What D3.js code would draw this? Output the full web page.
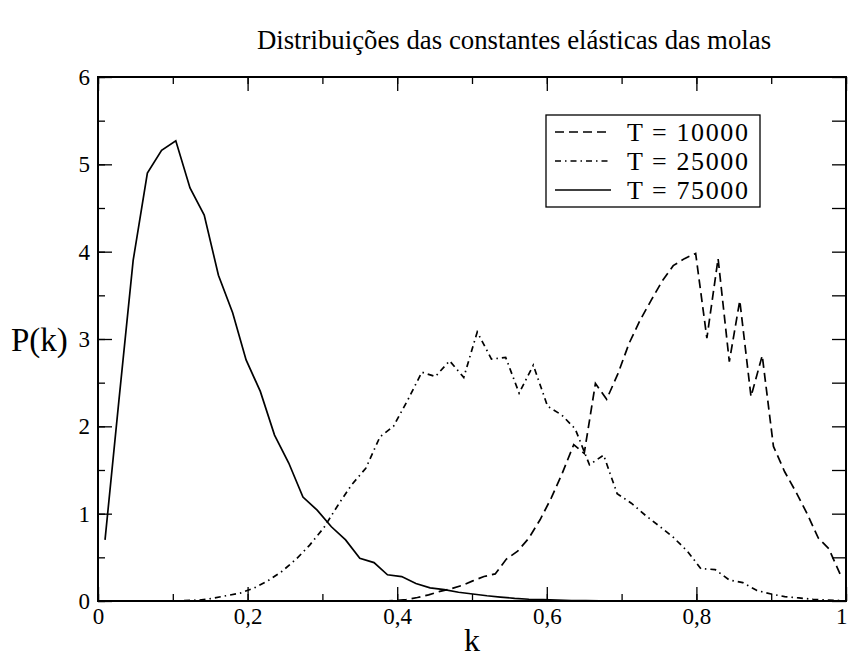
<!DOCTYPE html>
<html><head><meta charset="utf-8">
<script src="https://cdn.jsdelivr.net/npm/d3@7"></script>
<style>html,body{margin:0;padding:0;background:#fff;}svg{display:block;}
svg text{font-family:"Liberation Serif","Times New Roman","DejaVu Serif",serif !important;}</style>
</head><body>
<svg id="chart" width="848" height="666"></svg>
<script>
const title = "Distribuições das constantes elásticas das molas";
const xLabel = "k";
const yLabel = "P(k)";
const legendLabels = ["T = 10000", "T = 25000", "T = 75000"];
const xTicks = [0, 0.2, 0.4, 0.6, 0.8, 1];
const yTicks = [0, 1, 2, 3, 4, 5, 6];

// T = 10000 (dashed)
const k10000 = [0.382,0.397,0.412,0.427,0.442,0.457,0.472,0.487,0.501,0.516,0.531,0.546,0.561,0.576,0.591,0.606,0.621,0.636,0.650,0.665,0.680,0.695,0.710,0.725,0.740,0.754,0.769,0.784,0.799,0.814,0.829,0.844,0.858,0.873,0.888,0.903,0.918,0.933,0.948,0.963,0.977,0.992];
const p10000 = [0.0,0.005,0.015,0.04,0.07,0.11,0.14,0.18,0.23,0.28,0.31,0.48,0.57,0.72,0.93,1.18,1.47,1.79,1.69,2.49,2.31,2.60,2.95,3.22,3.45,3.66,3.84,3.92,3.98,3.01,3.92,2.74,3.44,2.34,2.81,1.77,1.48,1.25,1.00,0.72,0.60,0.31];

// T = 25000 (dash-dot)
const k25000 = [0.115,0.134,0.153,0.171,0.190,0.209,0.227,0.246,0.265,0.283,0.302,0.321,0.339,0.358,0.377,0.395,0.414,0.433,0.451,0.470,0.489,0.507,0.526,0.545,0.563,0.582,0.601,0.620,0.638,0.657,0.676,0.694,0.713,0.732,0.750,0.769,0.788,0.806,0.825,0.844,0.862,0.881,0.900,0.918,0.937,0.956,0.974,0.993];
const p25000 = [0.005,0.01,0.03,0.06,0.09,0.15,0.23,0.34,0.48,0.64,0.84,1.10,1.33,1.52,1.88,2.00,2.30,2.62,2.57,2.75,2.56,3.08,2.77,2.79,2.38,2.70,2.23,2.13,1.97,1.56,1.67,1.23,1.12,0.98,0.86,0.73,0.57,0.37,0.36,0.24,0.21,0.12,0.08,0.05,0.035,0.02,0.01,0.005];

// T = 75000 (solid)
const k75000 = [0.0094,0.028,0.047,0.066,0.085,0.104,0.123,0.142,0.161,0.180,0.198,0.217,0.236,0.255,0.274,0.293,0.312,0.331,0.350,0.369,0.387,0.406,0.425,0.444,0.463,0.482,0.501,0.520,0.538,0.557,0.576,0.595,0.614,0.633,0.652,0.671,0.690];
const p75000 = [0.70,2.30,3.90,4.90,5.16,5.27,4.73,4.42,3.73,3.30,2.76,2.40,1.90,1.58,1.19,1.04,0.85,0.70,0.49,0.44,0.30,0.28,0.20,0.15,0.13,0.10,0.08,0.06,0.045,0.03,0.02,0.015,0.01,0.006,0.004,0.002,0.001];

const series = [
  {k: k10000, p: p10000, dash: "9,5"},
  {k: k25000, p: p25000, dash: "6,4,1.5,4"},
  {k: k75000, p: p75000, dash: null}
];

const svg = d3.select("#chart");
const font = "Liberation Serif";
const L = 98, R = 846, T = 77, B = 601;
const x = d3.scaleLinear().domain([0, 1]).range([L, R]);
const y = d3.scaleLinear().domain([0, 6]).range([B, T]);
const fmt = d => String(d).replace(".", ",");

const xMinor = d3.range(0, 1.0001, 0.1).map(v => +v.toFixed(2));
const yMinor = d3.range(0, 6.0001, 0.5);

function styleAxis(g) {
  g.attr("font-family", font);
  g.select(".domain").remove();
  g.selectAll(".tick line").attr("stroke", "#000").attr("stroke-width", 1.3);
  g.selectAll(".tick text").attr("font-size", 23).attr("fill", "#000");
}

svg.append("g").attr("transform", `translate(0,${B})`)
  .call(d3.axisBottom(x).tickValues(xMinor).tickSize(-7).tickFormat("")).call(styleAxis);
const xAx = svg.append("g").attr("transform", `translate(0,${B})`)
  .call(d3.axisBottom(x).tickValues(xTicks).tickSize(-14).tickPadding(7).tickFormat(fmt)).call(styleAxis);
xAx.selectAll(".tick text").filter(d => d === 1).attr("text-anchor", "end").attr("dx", "1");
svg.append("g").attr("transform", `translate(0,${T})`)
  .call(d3.axisTop(x).tickValues(xMinor).tickSize(-7).tickFormat("")).call(styleAxis);
svg.append("g").attr("transform", `translate(0,${T})`)
  .call(d3.axisTop(x).tickValues(xTicks).tickSize(-14).tickFormat("")).call(styleAxis);
svg.append("g").attr("transform", `translate(${L},0)`)
  .call(d3.axisLeft(y).tickValues(yMinor).tickSize(-7).tickFormat("")).call(styleAxis);
svg.append("g").attr("transform", `translate(${L},0)`)
  .call(d3.axisLeft(y).tickValues(yTicks).tickSize(-14).tickPadding(8).tickFormat(fmt)).call(styleAxis);
svg.append("g").attr("transform", `translate(${R},0)`)
  .call(d3.axisRight(y).tickValues(yMinor).tickSize(-14).tickFormat("")).call(styleAxis);

svg.append("rect").attr("x", L).attr("y", T).attr("width", R - L).attr("height", B - T)
  .attr("fill", "none").attr("stroke", "#000").attr("stroke-width", 2);

const line = d3.line().x(d => x(d[0])).y(d => y(d[1]));
series.forEach(s => {
  const pts = s.k.map((kv, i) => [kv, s.p[i]]);
  svg.append("path").datum(pts).attr("d", line)
    .attr("fill", "none").attr("stroke", "#000").attr("stroke-width", 1.7)
    .attr("stroke-dasharray", s.dash);
});

svg.append("text").attr("x", 514).attr("y", 49).attr("text-anchor", "middle")
  .attr("font-family", font).attr("font-size", 26.8).text(title);
svg.append("text").attr("x", x(0.5)).attr("y", 651).attr("text-anchor", "middle")
  .attr("font-family", font).attr("font-size", 32).text(xLabel);
svg.append("text").attr("x", 11).attr("y", 351)
  .attr("font-family", font).attr("font-size", 33).text(yLabel);

const lg = svg.append("g");
lg.append("rect").attr("x", 546).attr("y", 115).attr("width", 214).attr("height", 92)
  .attr("fill", "#fff").attr("stroke", "#000").attr("stroke-width", 1.3);
series.forEach((s, i) => {
  const yy = 132 + i * 29;
  lg.append("line").attr("x1", 555).attr("x2", 611).attr("y1", yy).attr("y2", yy)
    .attr("stroke", "#000").attr("stroke-width", 1.7).attr("stroke-dasharray", s.dash);
  lg.append("text").attr("x", 627).attr("y", yy + 9).attr("font-family", font)
    .attr("font-size", 26).attr("letter-spacing", "1.6px").text(legendLabels[i]);
});
</script>
</body></html>
